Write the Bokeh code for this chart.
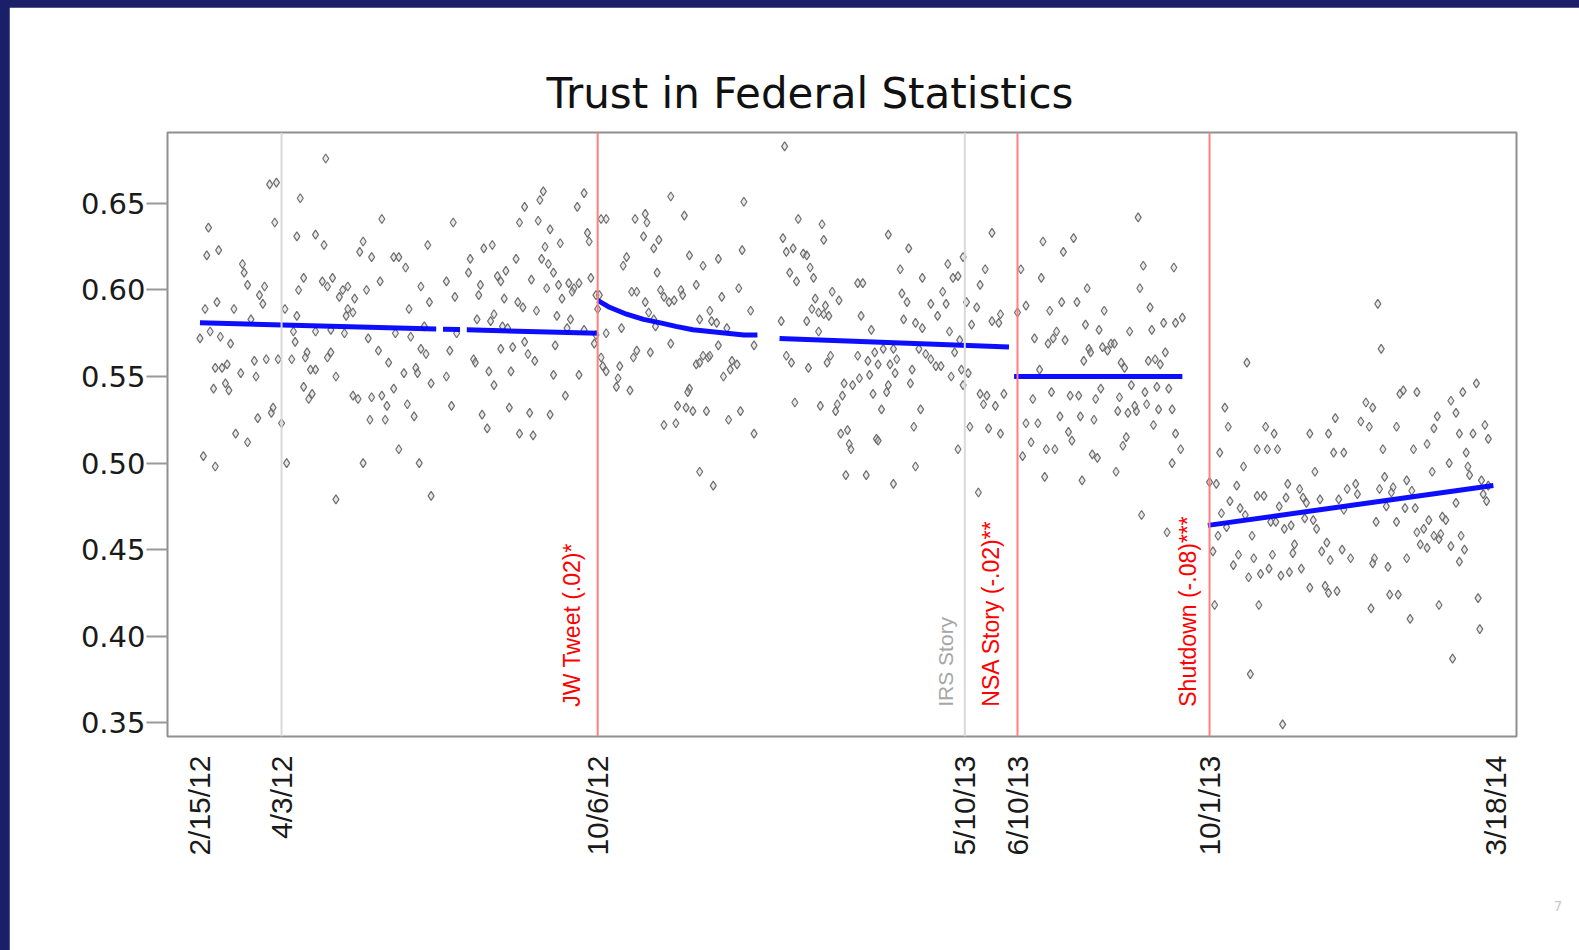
import math
import numpy as np
import pandas as pd
from bokeh.plotting import figure
from bokeh.models import Range1d, FixedTicker, Span, Title, ColumnDataSource
from bokeh.core.properties import value
from bokeh.embed import file_html
from bokeh.resources import INLINE

# ---------------- data ----------------
BASE_DATE = pd.Timestamp("2012-02-15")   # day 0 of the series

x_tick_dates = ["2012-02-15", "2012-04-03", "2012-10-06", "2013-05-10",
                "2013-06-10", "2013-10-01", "2014-03-18"]
x_tick_labels = ["2/15/12", "4/3/12", "10/6/12", "5/10/13", "6/10/13", "10/1/13", "3/18/14"]
y_ticks = [0.35, 0.40, 0.45, 0.50, 0.55, 0.60, 0.65]
y_tick_labels = ["0.35", "0.40", "0.45", "0.50", "0.55", "0.60", "0.65"]

event_dates = ["2012-04-03", "2012-10-06", "2013-05-10", "2013-06-10", "2013-10-01"]
event_labels = ["", "JW Tweet (.02)*", "IRS Story", "NSA Story (-.02)**", "Shutdown (-.08)***"]
event_significant = [False, True, False, True, True]

# daily observations: (days since 2/15/12, trust)
obs_2012 = [
    (74,0.676),(41,0.661),(45,0.662),(59,0.653),(44,0.639),(5,0.636),(57,0.631),(68,0.632),(73,0.626),
    (11,0.623),(4,0.620),(25,0.615),(26,0.610),(28,0.603),(38,0.602),(35,0.597),(37,0.592),(10,0.593),
    (3,0.589),(20,0.589),(30,0.583),(6,0.576),(0,0.572),(12,0.573),(18,0.569),(32,0.559),(39,0.560),
    (46,0.560),(54,0.560),(16,0.557),(9,0.555),(13,0.555),(24,0.552),(33,0.550),(15,0.546),(8,0.543),
    (17,0.542),(21,0.517),(34,0.526),(42,0.529),(43,0.532),(48,0.523),(96,0.628),(94,0.622),(101,0.619),
    (107,0.641),(114,0.619),(117,0.619),(121,0.613),(61,0.607),(72,0.605),(78,0.607),(75,0.602),(58,0.600),
    (87,0.602),(84,0.600),(82,0.596),(91,0.595),(98,0.600),(106,0.605),(87,0.589),(90,0.587),(86,0.585),
    (50,0.589),(57,0.585),(55,0.576),(56,0.570),(68,0.576),(77,0.577),(85,0.575),(99,0.572),(63,0.564),
    (62,0.561),(77,0.564),(75,0.561),(68,0.554),(65,0.554),(80,0.550),(61,0.544),(66,0.540),(64,0.537),
    (90,0.539),(93,0.537),(101,0.538),(107,0.539),(114,0.543),(110,0.533),(122,0.534),(126,0.527),(100,0.525),
    (109,0.525),(123,0.589),(130,0.602),(135,0.593),(134,0.626),(149,0.639),(145,0.605),(150,0.596),(124,0.573),
    (115,0.575),(132,0.579),(105,0.565),(111,0.558),(120,0.552),(127,0.555),(128,0.552),(130,0.566),(133,0.563),
    (136,0.546),(145,0.550),(147,0.565),(151,0.575),(148,0.533),(158,0.610),(159,0.618),(167,0.624),(172,0.626),
    (165,0.603),(164,0.597),(163,0.583),(171,0.582),(173,0.586),(179,0.595),(175,0.608),(180,0.611),(177,0.605),
    (186,0.618),(187,0.593),(190,0.590),(195,0.606),(198,0.588),(201,0.618),(205,0.615),(204,0.601),(191,0.648),
    (188,0.639),(199,0.640),(206,0.635),(200,0.652),(202,0.657),(203,0.625),(212,0.627),(208,0.610),(213,0.595),
    (211,0.603),(217,0.604),(220,0.601),(223,0.604),(219,0.599),(210,0.585),(218,0.583),(216,0.578),(226,0.577),
    (222,0.648),(226,0.656),(228,0.633),(229,0.628),(230,0.607),(233,0.597),(235,0.597),(234,0.589),(178,0.579),
    (181,0.578),(177,0.566),(184,0.567),(191,0.570),(193,0.563),(197,0.559),(209,0.568),(161,0.560),(162,0.558),
    (170,0.553),(183,0.553),(173,0.545),(208,0.551),(223,0.551),(215,0.539),(182,0.532),(194,0.529),(206,0.528),
    (166,0.528),(169,0.520),(188,0.517),(196,0.516),(233,0.574),(232,0.569),(236,0.641),(239,0.641),(236,0.561),
    (237,0.556),(239,0.553),(239,0.575),
    (2,0.504),(9,0.498),(28,0.512),(51,0.500),(96,0.500),(129,0.500),(117,0.508),(80,0.479),(136,0.481),
]

obs_2013a = [
    (344,0.683),(277,0.654),(320,0.651),(285,0.643),(256,0.641),(262,0.644),(263,0.639),(352,0.641),(366,0.638),
    (261,0.631),(270,0.629),(267,0.624),(343,0.630),(367,0.629),(405,0.632),(466,0.633),(288,0.620),(305,0.618),
    (319,0.623),(345,0.622),(349,0.624),(355,0.621),(357,0.620),(417,0.624),(251,0.619),(249,0.614),(269,0.610),
    (296,0.614),(347,0.610),(351,0.605),(359,0.613),(361,0.607),(412,0.612),(425,0.607),(440,0.615),(443,0.607),
    (446,0.608),(449,0.619),(462,0.612),(459,0.603),(292,0.603),(317,0.601),(387,0.604),(390,0.604),(372,0.599),
    (362,0.595),(368,0.591),(376,0.594),(360,0.589),(367,0.586),(370,0.585),(364,0.587),(413,0.598),(416,0.593),
    (430,0.592),(439,0.592),(437,0.599),(451,0.593),(457,0.590),(254,0.599),(257,0.599),(271,0.600),(273,0.596),
    (276,0.593),(283,0.600),(284,0.597),(279,0.594),(262,0.593),(300,0.588),(307,0.596),(324,0.588),(264,0.587),
    (267,0.583),(268,0.579),(294,0.583),(301,0.582),(304,0.581),(310,0.578),(248,0.578),(277,0.569),(305,0.568),
    (326,0.568),(342,0.582),(357,0.582),(364,0.576),(389,0.585),(395,0.577),(414,0.583),(421,0.581),(425,0.578),
    (434,0.585),(441,0.576),(454,0.580),(466,0.582),(471,0.586),(470,0.581),(447,0.571),(402,0.566),(397,0.564),
    (408,0.566),(423,0.566),(444,0.564),(427,0.563),(430,0.560),(433,0.556),(436,0.556),(387,0.562),(393,0.559),
    (399,0.557),(406,0.557),(409,0.552),(410,0.560),(419,0.554),(345,0.562),(348,0.558),(358,0.555),(371,0.562),
    (369,0.558),(257,0.565),(255,0.561),(265,0.564),(247,0.556),(246,0.549),(245,0.544),(253,0.542),(296,0.562),
    (299,0.561),(300,0.562),(292,0.557),(294,0.558),(313,0.559),(316,0.557),(312,0.554),(308,0.550),(379,0.546),
    (384,0.545),(388,0.549),(394,0.551),(405,0.545),(404,0.541),(418,0.546),(378,0.539),(375,0.534),(374,0.530),
    (365,0.533),(350,0.535),(396,0.540),(401,0.531),(424,0.531),(442,0.550),(448,0.554),(452,0.552),(449,0.545),
    (459,0.540),(463,0.539),(461,0.534),(468,0.533),(473,0.540),(288,0.543),(287,0.541),(281,0.533),(286,0.532),
    (290,0.530),(298,0.530),(318,0.530),(311,0.525),(273,0.522),(280,0.523),(326,0.517),(377,0.517),(381,0.519),
    (420,0.521),(453,0.521),(464,0.520),(471,0.517),(398,0.514),
    (382,0.511),(383,0.508),(399,0.513),(446,0.508),(294,0.495),(302,0.487),(380,0.493),(392,0.493),(408,0.488),
    (421,0.498),(458,0.483),
]

obs_2013b = [
    (483,0.612),(486,0.591),(481,0.587),(496,0.628),(514,0.630),(508,0.622),(495,0.607),(522,0.601),(507,0.593),
    (516,0.593),(500,0.588),(532,0.588),(521,0.580),(529,0.577),(504,0.576),(502,0.572),(499,0.569),(509,0.571),
    (491,0.572),(523,0.566),(524,0.564),(531,0.567),(534,0.565),(536,0.569),(538,0.569),(520,0.559),(547,0.576),
    (552,0.642),(555,0.614),(573,0.613),(553,0.601),(559,0.590),(567,0.581),(574,0.581),(578,0.584),(560,0.577),
    (568,0.564),(542,0.558),(544,0.555),(558,0.559),(562,0.560),(565,0.557),(494,0.554),(501,0.541),(490,0.537),
    (512,0.539),(517,0.539),(527,0.537),(530,0.543),(541,0.538),(548,0.545),(556,0.541),(563,0.544),(570,0.543),
    (506,0.527),(518,0.527),(526,0.525),(486,0.523),(493,0.523),(540,0.530),(546,0.529),(551,0.530),(550,0.533),
    (557,0.534),(564,0.531),(572,0.531),(561,0.522),(574,0.517),(511,0.518),(545,0.515),
    (489,0.512),(498,0.508),(503,0.508),(513,0.513),(484,0.504),(525,0.505),(528,0.503),(543,0.510),(577,0.508),
    (572,0.500),(539,0.495),(497,0.492),(519,0.490),(554,0.470),(569,0.460),
]

obs_2014 = [
    (616,0.558),(603,0.532),(605,0.521),(627,0.521),(632,0.517),(653,0.517),(664,0.517),(668,0.526),(683,0.524),
    (688,0.521),(686,0.535),(690,0.532),(693,0.592),(695,0.566),(704,0.521),(706,0.540),(708,0.542),(716,0.541),
    (726,0.520),(728,0.527),(736,0.536),(739,0.529),(743,0.541),(751,0.546),(756,0.522),(741,0.517),(749,0.517),
    (600,0.506),(594,0.489),(598,0.488),(610,0.487),(614,0.498),(622,0.508),(628,0.508),(634,0.508),(667,0.506),
    (673,0.506),(656,0.495),(640,0.488),(647,0.485),(675,0.485),(680,0.488),(681,0.482),(694,0.485),(702,0.486),
    (701,0.483),(697,0.492),(710,0.490),(696,0.508),(714,0.508),(722,0.511),(735,0.500),(725,0.495),(758,0.514),
    (745,0.506),(746,0.498),(747,0.493),(754,0.490),(758,0.487),(755,0.482),(757,0.478),(739,0.477),(713,0.484),
    (604,0.463),(606,0.478),(612,0.474),(601,0.471),(615,0.470),(622,0.481),(626,0.481),(635,0.475),(639,0.480),
    (649,0.480),(651,0.477),(659,0.479),(670,0.479),(673,0.473),(650,0.468),(655,0.467),(657,0.462),(638,0.462),
    (642,0.464),(630,0.466),(633,0.466),(619,0.458),(599,0.458),(692,0.466),(704,0.466),(698,0.475),(709,0.474),
    (715,0.474),(723,0.467),(731,0.469),(733,0.467),(716,0.460),(720,0.462),(726,0.458),(729,0.456),(730,0.459),
    (718,0.453),(722,0.451),(736,0.452),(742,0.458),(744,0.450),(596,0.449),(611,0.447),(620,0.445),(631,0.447),
    (644,0.453),(643,0.448),(660,0.449),(663,0.454),(672,0.450),(665,0.444),(677,0.445),(691,0.445),(690,0.442),
    (699,0.440),(710,0.445),(741,0.443),(608,0.441),(617,0.434),(624,0.436),(629,0.439),(636,0.435),(641,0.437),
    (648,0.439),(653,0.428),(662,0.429),(664,0.425),(669,0.426),(700,0.424),(705,0.424),(729,0.418),(752,0.422),
    (597,0.418),(623,0.418),(689,0.416),(712,0.410),(753,0.404),(737,0.387),(618,0.378),(637,0.349),
]

# fitted trend per period (NaN = break where no data)
nan = float("nan")
trend_days = [0, 139, nan, 143, 153, nan, 157, 234, nan,
              234, 241, 251, 261, 271, 280, 290, 300, 310, 320, 328, nan,
              341, 476, nan,
              479, 578, nan,
              593, 761]
trend_vals = [0.581, 0.5774, nan, 0.5773, 0.5771, nan, 0.5770, 0.575, nan,
              0.594, 0.590, 0.586, 0.583, 0.581, 0.579, 0.577, 0.576, 0.575, 0.574, 0.574, nan,
              0.572, 0.567, nan,
              0.550, 0.550, nan,
              0.464, 0.487]

# ---------------- figure ----------------
def day_of(date_str):
    return (pd.Timestamp(date_str) - BASE_DATE).days

all_obs = obs_2012 + obs_2013a + obs_2013b + obs_2014
src = ColumnDataSource(dict(day=[d for d, _ in all_obs], trust=[v for _, v in all_obs]))

p = figure(width=1570, height=943,
           x_range=Range1d(-19.1, 774.6), y_range=Range1d(0.342, 0.691),
           output_backend="svg", toolbar_location=None,
           min_border_left=158, min_border_right=63, min_border_top=125, min_border_bottom=213)

p.background_fill_color = "white"
p.border_fill_color = "white"
p.outline_line_color = "#8f8f8f"
p.outline_line_width = 2
p.grid.visible = False

p.title.text = "Trust in Federal Statistics"
p.title.text_font = "DejaVu Sans"
p.title.text_font_size = "42px"
p.title.text_font_style = "normal"
p.title.text_color = "#111111"
p.title.align = "left"
p.title.offset = 379
p.title.standoff = 29

# y axis
p.yaxis.ticker = FixedTicker(ticks=y_ticks)
p.yaxis.major_label_overrides = dict(zip(y_ticks, y_tick_labels))
p.yaxis.major_label_text_font = "DejaVu Sans"
p.yaxis.major_label_text_font_size = "29px"
p.yaxis.major_label_text_color = "#1a1a1a"
p.yaxis.axis_line_color = None
p.yaxis.major_tick_in = 0
p.yaxis.major_tick_out = 21
p.yaxis.major_tick_line_color = "#9a9a9a"
p.yaxis.major_tick_line_width = 2
p.yaxis.minor_tick_line_color = None
p.yaxis.major_label_standoff = 1

# x axis
x_tick_days = [day_of(s) for s in x_tick_dates]
p.xaxis.ticker = FixedTicker(ticks=x_tick_days)
p.xaxis.major_label_overrides = dict(zip(x_tick_days, x_tick_labels))
p.xaxis.major_label_orientation = math.pi / 2
p.xaxis.major_label_text_font = "Liberation Sans"
p.xaxis.major_label_text_font_size = "30px"
p.xaxis.major_label_text_color = "#1a1a1a"
p.xaxis.axis_line_color = None
p.xaxis.major_tick_line_color = None
p.xaxis.minor_tick_line_color = None
p.xaxis.major_label_standoff = 13

# event lines
for date_str, sig in zip(event_dates, event_significant):
    p.add_layout(Span(location=day_of(date_str), dimension="height",
                      line_color="#ff8080" if sig else "#d9d9d9", line_width=2))

# scatter
p.scatter("day", "trust", source=src, marker="diamond", size=9,
          line_color="#6e6e6e", line_width=1.2, fill_color="#c8c8c8", fill_alpha=0.4)

# trend
p.line(np.array(trend_days, dtype=float), np.array(trend_vals, dtype=float),
       line_color="#0000ff", line_width=5, line_alpha=0.95)

# event labels (vertical, to the left of their line)
lab_offsets = {"JW Tweet (.02)*": -26, "IRS Story": -19,
               "NSA Story (-.02)**": -26, "Shutdown (-.08)***": -22}
for date_str, txt, sig in zip(event_dates, event_labels, event_significant):
    if not txt:
        continue
    p.text(x=[day_of(date_str)], y=[0.3592], text=[txt], angle=math.pi / 2,
           x_offset=lab_offsets[txt], text_align="left", text_baseline="middle",
           text_font=value("Liberation Sans"),
           text_font_size=value("21px" if not sig else "23px"),
           text_color="#ff0000" if sig else "#a6a6a6")

# slide number
p.add_layout(Title(text="7", align="right", offset=-46, standoff=80,
                   text_color="#c8c8c8", text_font_size="14px",
                   text_font_style="normal", text_font="DejaVu Sans"), "below")

html = file_html(p, INLINE, title="Trust in Federal Statistics")
html = html.replace("</head>", "<style>html,body{margin:0 !important;padding:0 !important;"
                    "background:#1b1f6a !important;overflow:hidden !important;}"
                    "body{padding:7px 0 0 9px !important;}</style>\n</head>", 1)
open("out.html", "w").write(html)
